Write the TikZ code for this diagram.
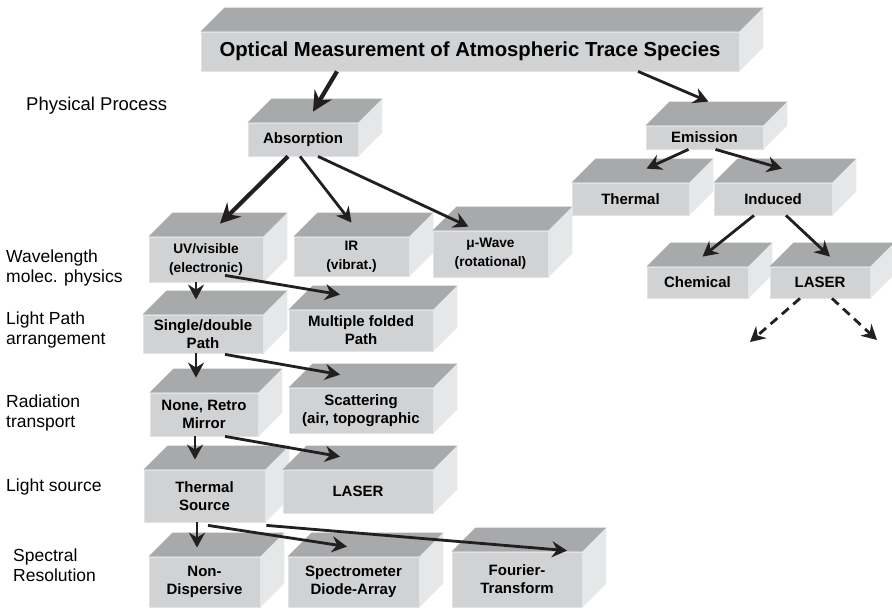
\documentclass[tikz,border=0pt]{standalone}
\usepackage{fontspec}
\setmainfont{Liberation Sans}
\usetikzlibrary{arrows.meta}

\definecolor{frontgray}{HTML}{D1D2D4}
\definecolor{topgray}{HTML}{A8A9AB}
\definecolor{sidegray}{HTML}{E6E7E8}
\definecolor{edgegray}{HTML}{E2E3E4}
\definecolor{inkblack}{HTML}{231F20}

\newcommand\boxfont{\bfseries\fontsize{15}{18}\selectfont}
\newcommand\smallboxfont{\bfseries\fontsize{13.7}{19}\selectfont}
\newcommand\titlefont{\bfseries\fontsize{20.3}{24}\selectfont}
\newcommand\labelfont{\fontsize{17.5}{20}\selectfont}

\begin{document}
\begin{tikzpicture}[
  x=1pt, y=-1pt,
  topface/.style={draw=none, fill=topgray,
    to path={-- ++(24,-24) -- ([shift={(24,-24)}]\tikztotarget) -- (\tikztotarget) -- cycle}},
  sideface/.style={draw=none, fill=sidegray,
    to path={-- ++(24,-24) -- ([shift={(24,-24)}]\tikztotarget) -- (\tikztotarget) -- cycle}},
  cube/.style 2 args={fill=frontgray, draw=edgegray, line width=0.8pt,
    minimum width=#1, minimum height=#2, inner sep=0pt, align=center, font=\boxfont,
    append after command={
      (\tikzlastnode.north west) edge[topface] (\tikzlastnode.north east)
      (\tikzlastnode.north east) edge[sideface] (\tikzlastnode.south east)}},
  rowlabel/.style={anchor=west, align=left, font=\labelfont, inner sep=0pt},
  link/.style={draw=inkblack, line width=2.8pt, -{Stealth[length=15pt, width=16pt, inset=5pt]}},
  boldlink/.style={link, line width=4.2pt, -{Stealth[length=20pt, width=20pt, inset=7pt]}},
  openlink/.style={link, dash pattern=on 9pt off 6pt}
]
  \useasboundingbox (0,0) rectangle (892,608);

  % row labels
  \node[rowlabel, font=\fontsize{18.5}{21}\selectfont] (lprocess) at (26,106) {Physical Process};
  \node[rowlabel] (lwave) at (6,268) {Wavelength\\molec. physics};
  \node[rowlabel] (lpath) at (6,330) {Light Path\\arrangement};
  \node[rowlabel] (ltransport) at (6,413) {Radiation\\transport};
  \node[rowlabel] (lsource) at (6,487) {Light source};
  \node[rowlabel] (lresolution) at (13,565) {Spectral\\Resolution};

  % boxes
  \node[cube={538pt}{39pt}, font=\titlefont] (title) at (470,51.5) {Optical Measurement of Atmospheric Trace Species};
  \node[cube={110pt}{33pt}] (absorption) at (303,139.5) {Absorption};
  \node[cube={117pt}{23pt}] (emission) at (704.5,137.5) {Emission};
  \node[cube={117pt}{32pt}] (thermalE) at (630.5,199) {Thermal};
  \node[cube={118pt}{32pt}] (induced) at (773,199) {Induced};
  \node[cube={101pt}{31pt}] (chemical) at (697.5,282.5) {Chemical};
  \node[cube={100pt}{31pt}] (laserE) at (820,282.5) {LASER};

  \node[cube={114pt}{45pt}, font=\smallboxfont] (uv) at (206,259.5) {UV/visible\\(electronic)};
  \node[cube={115pt}{39pt}, font=\smallboxfont] (ir) at (351.5,256.5) {IR\\(vibrat.)};
  \node[cube={115pt}{46pt}, font=\smallboxfont] (mwave) at (490.5,254) {μ-Wave\\(rotational)};

  \node[cube={120pt}{38pt}] (single) at (203,334) {Single/double\\Path};
  \node[cube={144pt}{41pt}] (multiple) at (361,330.5) {Multiple folded\\Path};
  \node[cube={108pt}{43pt}] (none) at (204,414.5) {None, Retro\\Mirror};
  \node[cube={144pt}{45pt}] (scattering) at (361,410.5) {Scattering\\(air, topographic};
  \node[cube={121pt}{52pt}] (thermalS) at (204.5,496) {Thermal\\Source};
  \node[cube={150pt}{43pt}] (laserS) at (358,491.5) {LASER};
  \node[cube={111pt}{50pt}] (nondisp) at (204.5,582) {Non-\\Dispersive};
  \node[cube={131pt}{50pt}] (spectro) at (353.5,582) {Spectrometer\\Diode-Array};
  \node[cube={130pt}{55pt}] (fourier) at (517,579.5) {Fourier-\\Transform};

  \coordinate (laserLeft) at (750,342);
  \coordinate (laserRight) at (877,340);

  % connectors
  \draw[boldlink] ([shift={(-133,0)}]title.south) -- ([shift={(10,-11)}]absorption.north);
  \draw[link] ([shift={(168,0)}]title.south) -- ([shift={(4,-24)}]emission.north);

  \draw[boldlink] ([shift={(-15,0)}]absorption.south) -- ([shift={(14,-13)}]uv.north);
  \draw[link] ([shift={(-3,0)}]absorption.south) -- ([shift={(0,-14)}]ir.north);
  \draw[link] ([shift={(15,0)}]absorption.south) -- ([shift={(-22,-4)}]mwave.north);

  \draw[link] ([shift={(-16,0)}]emission.south) -- ([shift={(16,-14)}]thermalE.north);
  \draw[link] ([shift={(11,0)}]emission.south) -- ([shift={(9,-14)}]induced.north);
  \draw[link] ([shift={(-19,0)}]induced.south) -- ([shift={(5,-10)}]chemical.north);
  \draw[link] ([shift={(13,0)}]induced.south) -- ([shift={(10,-10)}]laserE.north);
  \draw[openlink] ([shift={(-20,0)}]laserE.south) -- (laserLeft);
  \draw[openlink] ([shift={(12,0)}]laserE.south) -- (laserRight);

  \draw[link] ([shift={(-10,0)}]uv.south) -- ([shift={(-7,-15)}]single.north);
  \draw[link] ([shift={(19,-7)}]uv.south) -- ([shift={(-21,-15)}]multiple.north);
  \draw[link] ([shift={(-7,0)}]single.south) -- ([shift={(-8,-15)}]none.north);
  \draw[link] ([shift={(22,1)}]single.south) -- ([shift={(-21,-13)}]scattering.north);
  \draw[link] ([shift={(-9,0)}]none.south) -- ([shift={(-9.5,-10)}]thermalS.north);
  \draw[link] ([shift={(21,0)}]none.south) -- ([shift={(-18,-13)}]laserS.north);
  \draw[link] ([shift={(-7.5,0)}]thermalS.south) -- ([shift={(-7.5,-9)}]nondisp.north);
  \draw[link] ([shift={(3.5,3)}]thermalS.south) -- ([shift={(-6.5,-10)}]spectro.north);
  \draw[link] ([shift={(1,3)}]thermalS.south east) -- ([shift={(50,-1)}]fourier.north);
\end{tikzpicture}
\end{document}
